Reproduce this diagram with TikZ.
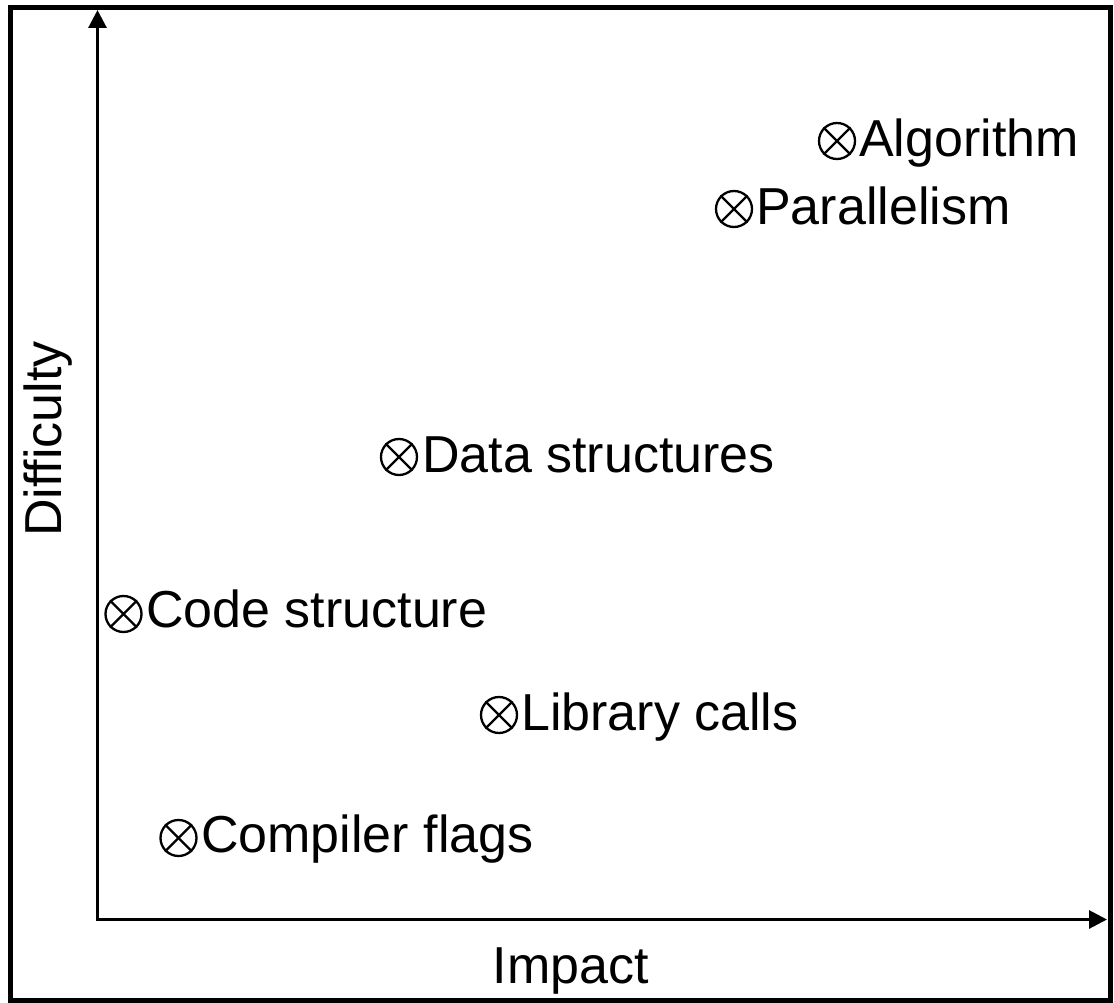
\documentclass[tikz,border=0pt]{standalone}
\usepackage{fontspec}
\setmainfont{Liberation Sans}
\usetikzlibrary{arrows.meta}
\tikzset{
  lbl/.style={anchor=base west, inner sep=0pt, font=\fontsize{52}{60}\selectfont},
  axislbl/.style={anchor=base, inner sep=0pt, font=\fontsize{52}{60}\selectfont},
  otm/.style={circle, draw, line width=2.3pt, minimum size=36pt, inner sep=0pt},
  otmx/.style={line width=2.3pt},
  axis/.style={line width=3pt, {Triangle[width=18pt,length=18pt]}-{Triangle[width=18pt,length=18pt]}, line join=miter},
  frame/.style={line width=5pt}
}
\begin{document}
\begin{tikzpicture}[x=1pt,y=-1pt]
\useasboundingbox (0,0) rectangle (1114,1003);
\draw[frame] (10.5,8) rectangle (1110,1000.5);
\coordinate (o) at (97.5,919.5);
\coordinate (ytop) at (97.5,10);
\coordinate (xend) at (1107,919.5);
\draw[axis] (ytop) -- (o) -- (xend);
\node[axislbl] (impact) at (571,983) {Impact};
\node[axislbl, rotate=90] (difficulty) at (61,439) {Difficulty};
% markers
\node[otm] (malg)  at (837,141) {};
\node[otm] (mpar)  at (734,209) {};
\node[otm] (mdata) at (399,457) {};
\node[otm] (mcode) at (123.5,614) {};
\node[otm] (mlib)  at (499,715) {};
\node[otm] (mcomp) at (178.5,838) {};
\foreach \m in {malg,mpar,mdata,mcode,mlib,mcomp}{
  \draw[otmx] (\m.north west) -- (\m.south east);
  \draw[otmx] (\m.north east) -- (\m.south west);
}
% labels
\node[lbl] (alg)  at (859,157) {Algorithm};
\node[lbl] (par)  at (756,225) {Parallelism};
\node[lbl] (data) at (422,472) {Data structures};
\node[lbl] (code) at (146,627) {Code structure};
\node[lbl] (lib)  at (521,730) {Library calls};
\node[lbl] (comp) at (201,852) {Compiler flags};
\end{tikzpicture}
\end{document}
